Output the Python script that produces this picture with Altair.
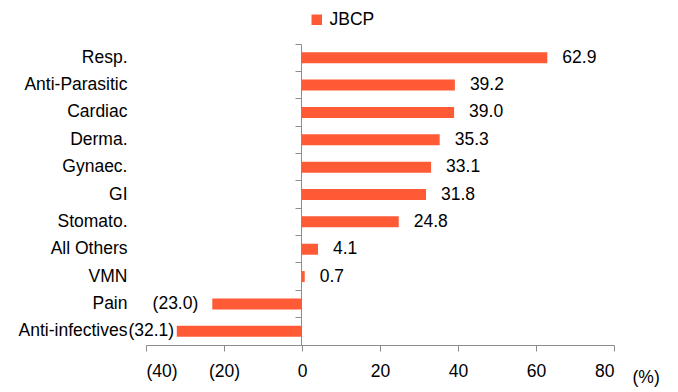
import altair as alt
import pandas as pd

categories = ["Resp.", "Anti-Parasitic", "Cardiac", "Derma.", "Gynaec.", "GI",
              "Stomato.", "All Others", "VMN", "Pain", "Anti-infectives"]
values = [62.9, 39.2, 39.0, 35.3, 33.1, 31.8, 24.8, 4.1, 0.7, -23.0, -32.1]
labels = ["62.9", "39.2", "39.0", "35.3", "33.1", "31.8", "24.8", "4.1", "0.7", "(23.0)", "(32.1)"]
series = "JBCP"
x_ticks = [-40, -20, 0, 20, 40, 60, 80]

df = pd.DataFrame({"cat": categories, "value": values, "label": labels, "series": series})

FONT = "Liberation Sans"
FS = 17.5
BAR = "#FF5A36"
AX = "#8C8C8C"

y_enc = alt.Y("cat:N", sort=categories,
              scale=alt.Scale(paddingInner=0, paddingOuter=0),
              axis=alt.Axis(title=None, offset=-155, labelPadding=168, tickSize=6,
                            bandPosition=0, domainColor=AX, tickColor=AX,
                            labelFont=FONT, labelFontSize=FS, labelColor="#000"))

x_scale = alt.Scale(domain=[-40, 80], nice=False)

bars = alt.Chart(df).mark_bar(size=11).encode(
    x=alt.X("value:Q", scale=x_scale,
            axis=alt.Axis(values=x_ticks, grid=False, tickSize=6, domainColor=AX, tickColor=AX,
                          labelExpr="datum.value < 0 ? '(' + abs(datum.value) + ')' : datum.value",
                          labelFont=FONT, labelFontSize=FS, labelColor="#000", labelPadding=11,
                          title="(%)", titleFont=FONT, titleFontSize=FS, titleFontWeight="normal",
                          titleColor="#000", titleX=486, titleY=32, titleAlign="left",
                          titleBaseline="middle", titleAnchor="start")),
    y=y_enc,
    color=alt.Color("series:N", scale=alt.Scale(range=[BAR]),
                    legend=alt.Legend(title=None, orient="none", legendX=162, legendY=-33,
                                      symbolType="square", symbolSize=110, symbolStrokeWidth=0,
                                      labelFont=FONT, labelFontSize=FS, labelColor="#000",
                                      padding=0)),
)

pos_text = alt.Chart(df).transform_filter("datum.value >= 0").mark_text(
    align="left", baseline="middle", dx=15, font=FONT, fontSize=FS, color="#000"
).encode(x=alt.X("value:Q", scale=x_scale), y=alt.Y("cat:N", sort=categories), text="label:N")

neg_text = alt.Chart(df).transform_filter("datum.value < 0").transform_calculate(
    lx="max(datum.value, -29.2)"
).mark_text(
    align="right", baseline="middle", dx=-14, font=FONT, fontSize=FS, color="#000"
).encode(x=alt.X("lx:Q", scale=x_scale), y=alt.Y("cat:N", sort=categories), text="label:N")

chart = alt.layer(bars, pos_text, neg_text).properties(
    width=468, height=301,
    padding={"left": 10, "top": 3, "right": 5, "bottom": 5}
).configure_view(stroke=None)

chart.save("out.html", embed_options={"renderer": "svg", "actions": False})
